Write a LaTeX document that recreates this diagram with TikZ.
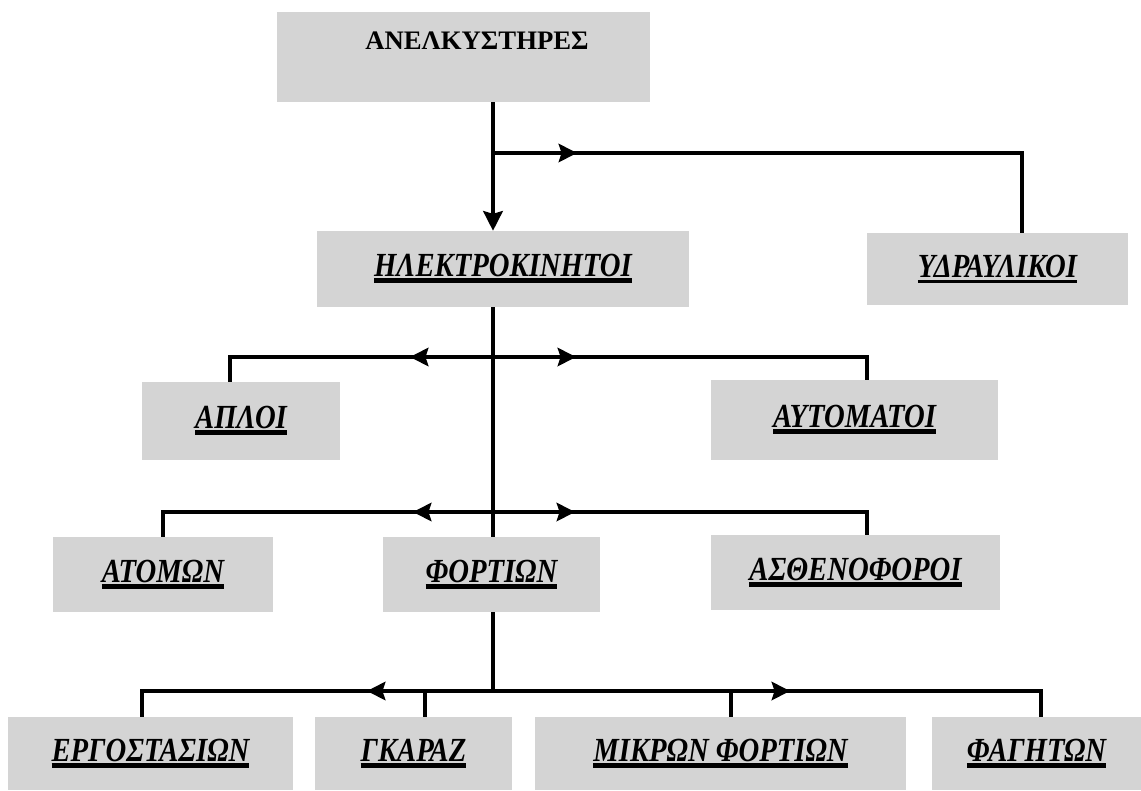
\documentclass[tikz,border=0pt]{standalone}
\usepackage{fontspec}
\setmainfont{Liberation Serif}
\newfontfamily\lblfont[FakeStretch=0.85]{Liberation Serif}
\usetikzlibrary{arrows.meta}
\definecolor{boxgray}{RGB}{212,212,212}
% heavy underline standing in for the dark drop shadow
\newcommand{\ulshadow}[1]{%
  \setbox0=\hbox{#1}%
  \rlap{\rule[-4.6pt]{\wd0}{3.6pt}}%
  \box0}
\newcommand{\ulplain}[1]{%
  \setbox0=\hbox{#1}%
  \rlap{\rule[-4pt]{\wd0}{1.8pt}}%
  \box0}
\tikzset{
  box/.style={fill=boxgray,inner sep=0pt,
    font=\lblfont\bfseries\itshape\fontsize{24}{28}\selectfont},
  toptxt/.style={inner sep=0pt,font=\bfseries\fontsize{19}{23}\selectfont},
  link/.style={line width=2.3pt},
  arr/.style={line width=3pt,-{Stealth[length=13pt,width=13pt,inset=2pt]}}
}
\begin{document}
\begin{tikzpicture}[x=0.025cm,y=-0.025cm]
\useasboundingbox (0,0) rectangle (1141,790);
% boxes
\node[box,minimum width=9.325cm,minimum height=2.25cm] (top) at (463.5,57) {};
\node[toptxt] (toplbl) at (477,41) {ΑΝΕΛΚΥΣΤΗΡΕΣ};
\node[box,minimum width=9.3cm,minimum height=1.9cm] (elek) at (503,269) {\ulshadow{ΗΛΕΚΤΡΟΚΙΝΗΤΟΙ}};
\node[box,minimum width=6.525cm,minimum height=1.8cm] (ydr) at (997.5,269) {\ulplain{ΥΔΡΑΥΛΙΚΟΙ}};
\node[box,minimum width=4.95cm,minimum height=1.95cm] (apl) at (241,421) {\ulshadow{ΑΠΛΟΙ}};
\node[box,minimum width=7.175cm,minimum height=2cm] (aut) at (854.5,420) {\ulshadow{ΑΥΤΟΜΑΤΟΙ}};
\node[box,minimum width=5.5cm,minimum height=1.875cm] (atom) at (163,574.5) {\ulshadow{ΑΤΟΜΩΝ}};
\node[box,minimum width=5.425cm,minimum height=1.875cm] (fort) at (491.5,574.5) {\ulshadow{ΦΟΡΤΙΩΝ}};
\node[box,minimum width=7.225cm,minimum height=1.875cm] (asth) at (855.5,572.5) {\ulshadow{ΑΣΘΕΝΟΦΟΡΟΙ}};
\node[box,minimum width=7.125cm,minimum height=1.825cm] (erg) at (150.5,753.5) {\ulshadow{ΕΡΓΟΣΤΑΣΙΩΝ}};
\node[box,minimum width=4.925cm,minimum height=1.825cm] (gkar) at (413.5,753.5) {\ulshadow{ΓΚΑΡΑΖ}};
\node[box,minimum width=9.275cm,minimum height=1.825cm] (mikr) at (720.5,753.5) {\ulshadow{ΜΙΚΡΩΝ ΦΟΡΤΙΩΝ}};
\node[box,minimum width=5.225cm,minimum height=1.825cm] (fag) at (1036.5,753.5) {\ulshadow{ΦΑΓΗΤΩΝ}};
% junctions
\coordinate (ja) at (493,153);
\coordinate (jy) at (1022,153);
\coordinate (jb) at (493,357);
\coordinate (jbl) at (230,357);
\coordinate (jbr) at (867,357);
\coordinate (jc) at (493,512);
\coordinate (jcl) at (163,512);
\coordinate (jcr) at (867,512);
\coordinate (jd) at (493,691);
\coordinate (jdl) at (142,691);
\coordinate (jdg) at (425,691);
\coordinate (jdm) at (731,691);
\coordinate (jdr) at (1041,691);
% first level
\draw[link,-{Stealth[length=14pt,width=14pt,inset=2pt]}] (top.south -| ja) -- (elek.north -| ja);
\draw[link] (ja) -- (jy) -- (jy |- ydr.north);
\draw[arr] (ja) -- ++(84,0);
% second level
\draw[link] (elek.south -| jb) -- (fort.north -| jb);
\draw[link] (apl.north -| jbl) -- (jbl) -- (jbr) -- (aut.north -| jbr);
\draw[arr] (jb) -- ++(-83,0);
\draw[arr] (jb) -- ++(83,0);
% third level
\draw[link] (atom.north -| jcl) -- (jcl) -- (jcr) -- (asth.north -| jcr);
\draw[arr] (jc) -- ++(-80,0);
\draw[arr] (jc) -- ++(82,0);
% fourth level
\draw[link] (fort.south -| jd) -- (jd);
\draw[link] (erg.north -| jdl) -- (jdl) -- (jdr) -- (fag.north -| jdr);
\draw[link] (jdg) -- (jdg |- gkar.north);
\draw[link] (jdm) -- (jdm |- mikr.north);
\draw[arr] (jdg) -- ++(-58,0);
\draw[arr] (jdm) -- ++(59,0);
\end{tikzpicture}
\end{document}
